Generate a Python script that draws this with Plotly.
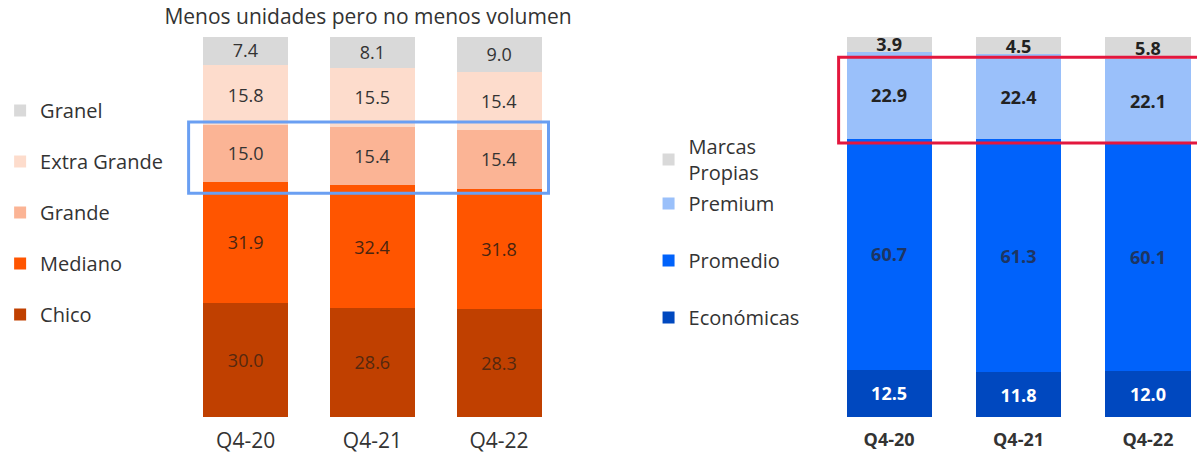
import plotly.graph_objects as go

# ---------------- data ----------------
categories = ["Q4-20", "Q4-21", "Q4-22"]

left_series = ["Chico", "Mediano", "Grande", "Extra Grande", "Granel"]
chico = [30.0, 28.6, 28.3]
mediano = [31.9, 32.4, 31.8]
grande = [15.0, 15.4, 15.4]
extra_grande = [15.8, 15.5, 15.4]
granel = [7.4, 8.1, 9.0]

right_series = ["Económicas", "Promedio", "Premium", "Marcas Propias"]
economicas = [12.5, 11.8, 12.0]
promedio = [60.7, 61.3, 60.1]
premium = [22.9, 22.4, 22.1]
marcas_propias = [3.9, 4.5, 5.8]

title_text = "Menos unidades pero no menos volumen"

# ---------------- styles ----------------
FONT = "Open Sans"
TXT = "#333333"
left_colors = ["#c04000", "#ff5500", "#fbb495", "#fddccc", "#d9d9d9"]
left_text_colors = ["#55280f", "#4a2410", "#333333", "#333333", "#333333"]
right_colors = ["#0048bf", "#0062fb", "#9ac0fa", "#d9d9d9"]
right_text_colors = ["#ffffff", "#1d3563", "#222222", "#222222"]

fig = go.Figure()

left_values = [chico, mediano, grande, extra_grande, granel]
n_left = len(left_series)
for i, (name, vals) in enumerate(zip(left_series, left_values)):
    fig.add_trace(go.Bar(
        x=categories, y=vals, name=name,
        marker=dict(color=left_colors[i], line=dict(width=0)),
        text=[f"{v:.1f}" for v in vals], textposition="inside",
        insidetextanchor="middle",
        textfont=dict(family=FONT, size=20, color=left_text_colors[i]),
        width=0.67, xaxis="x", yaxis="y",
        legend="legend", legendgroup="L" + name, legendrank=n_left - i,
        hoverinfo="skip",
    ))

right_values = [economicas, promedio, premium, marcas_propias]
n_right = len(right_series)
for i, (name, vals) in enumerate(zip(right_series, right_values)):
    legend_name = "Marcas<br>Propias" if name == "Marcas Propias" else name
    fig.add_trace(go.Bar(
        x=categories, y=vals, name=legend_name,
        marker=dict(color=right_colors[i], line=dict(width=0)),
        text=[f"{v:.1f}" for v in vals], textposition="inside",
        insidetextanchor="middle",
        textfont=dict(family=FONT, size=18, color=right_text_colors[i], weight="bold"),
        width=0.658, xaxis="x2", yaxis="y2",
        legend="legend3" if name == "Marcas Propias" else "legend2",
        legendgroup="R" + name, legendrank=n_right - i,
        hoverinfo="skip",
    ))

# highlight boxes derived from the data
g_low = [c + m for c, m in zip(chico, mediano)]
g_high = [l + g for l, g in zip(g_low, grande)]
p_low = [e + p for e, p in zip(economicas, promedio)]
p_high = [l + p for l, p in zip(p_low, premium)]

fig.add_shape(type="rect", xref="x", yref="y",
              x0=-0.45, x1=2.39, y0=min(g_low) - 1.2, y1=max(g_high) + 0.7,
              line=dict(color="#6a9ff2", width=3), fillcolor="rgba(0,0,0,0)")
fig.add_shape(type="rect", xref="x2", yref="y2",
              x0=-0.39, x1=2.55, y0=min(p_low), y1=max(p_high) - 1.4,
              line=dict(color="#e3173e", width=3), fillcolor="rgba(0,0,0,0)")

ydom = [37 / 454, 417 / 454]
axis_common = dict(showgrid=False, zeroline=False, showline=False)
legend_font = dict(family=FONT, size=20, color=TXT)

fig.update_layout(
    width=1197, height=454,
    margin=dict(l=0, r=0, t=0, b=0),
    paper_bgcolor="white", plot_bgcolor="white",
    barmode="stack",
    showlegend=True,
    font=dict(family=FONT, color=TXT),
    title=dict(text=title_text, x=368 / 1197, xanchor="center",
               y=1 - 17 / 454, yanchor="middle",
               font=dict(family=FONT, size=21, color=TXT)),
    uniformtext=dict(minsize=16, mode="show"),
    xaxis=dict(domain=[172 / 1197, 556 / 1197], range=[-0.5, 2.5],
               anchor="y",
               tickfont=dict(family=FONT, size=21, color=TXT),
               ticklabelstandoff=9, **axis_common),
    yaxis=dict(domain=ydom, range=[0, 100], showticklabels=False,
               anchor="x", **axis_common),
    xaxis2=dict(domain=[820.6 / 1197, 1.0], range=[-0.5, 2.379],
                anchor="y2",
                tickfont=dict(family=FONT, size=18, color=TXT, weight="bold"),
                ticklabelstandoff=10, **axis_common),
    yaxis2=dict(domain=ydom, range=[0, 100], showticklabels=False,
                anchor="x2", **axis_common),
    legend=dict(x=-12 / 1197, xanchor="left", y=1 - 91 / 454, yanchor="top",
                traceorder="grouped", tracegroupgap=22,
                font=legend_font, bgcolor="rgba(0,0,0,0)", itemclick=False),
    legend2=dict(x=643 / 1197, xanchor="left", y=1 - 184 / 454, yanchor="top",
                 traceorder="grouped", tracegroupgap=28,
                 font=legend_font, bgcolor="rgba(0,0,0,0)", itemclick=False),
    legend3=dict(x=643 / 1197, xanchor="left", y=1 - 127 / 454, yanchor="top",
                 font=legend_font, bgcolor="rgba(0,0,0,0)", itemclick=False),
)

fig.write_html("out.html", config={"displayModeBar": False},
               post_script="document.body.style.margin='0';")
